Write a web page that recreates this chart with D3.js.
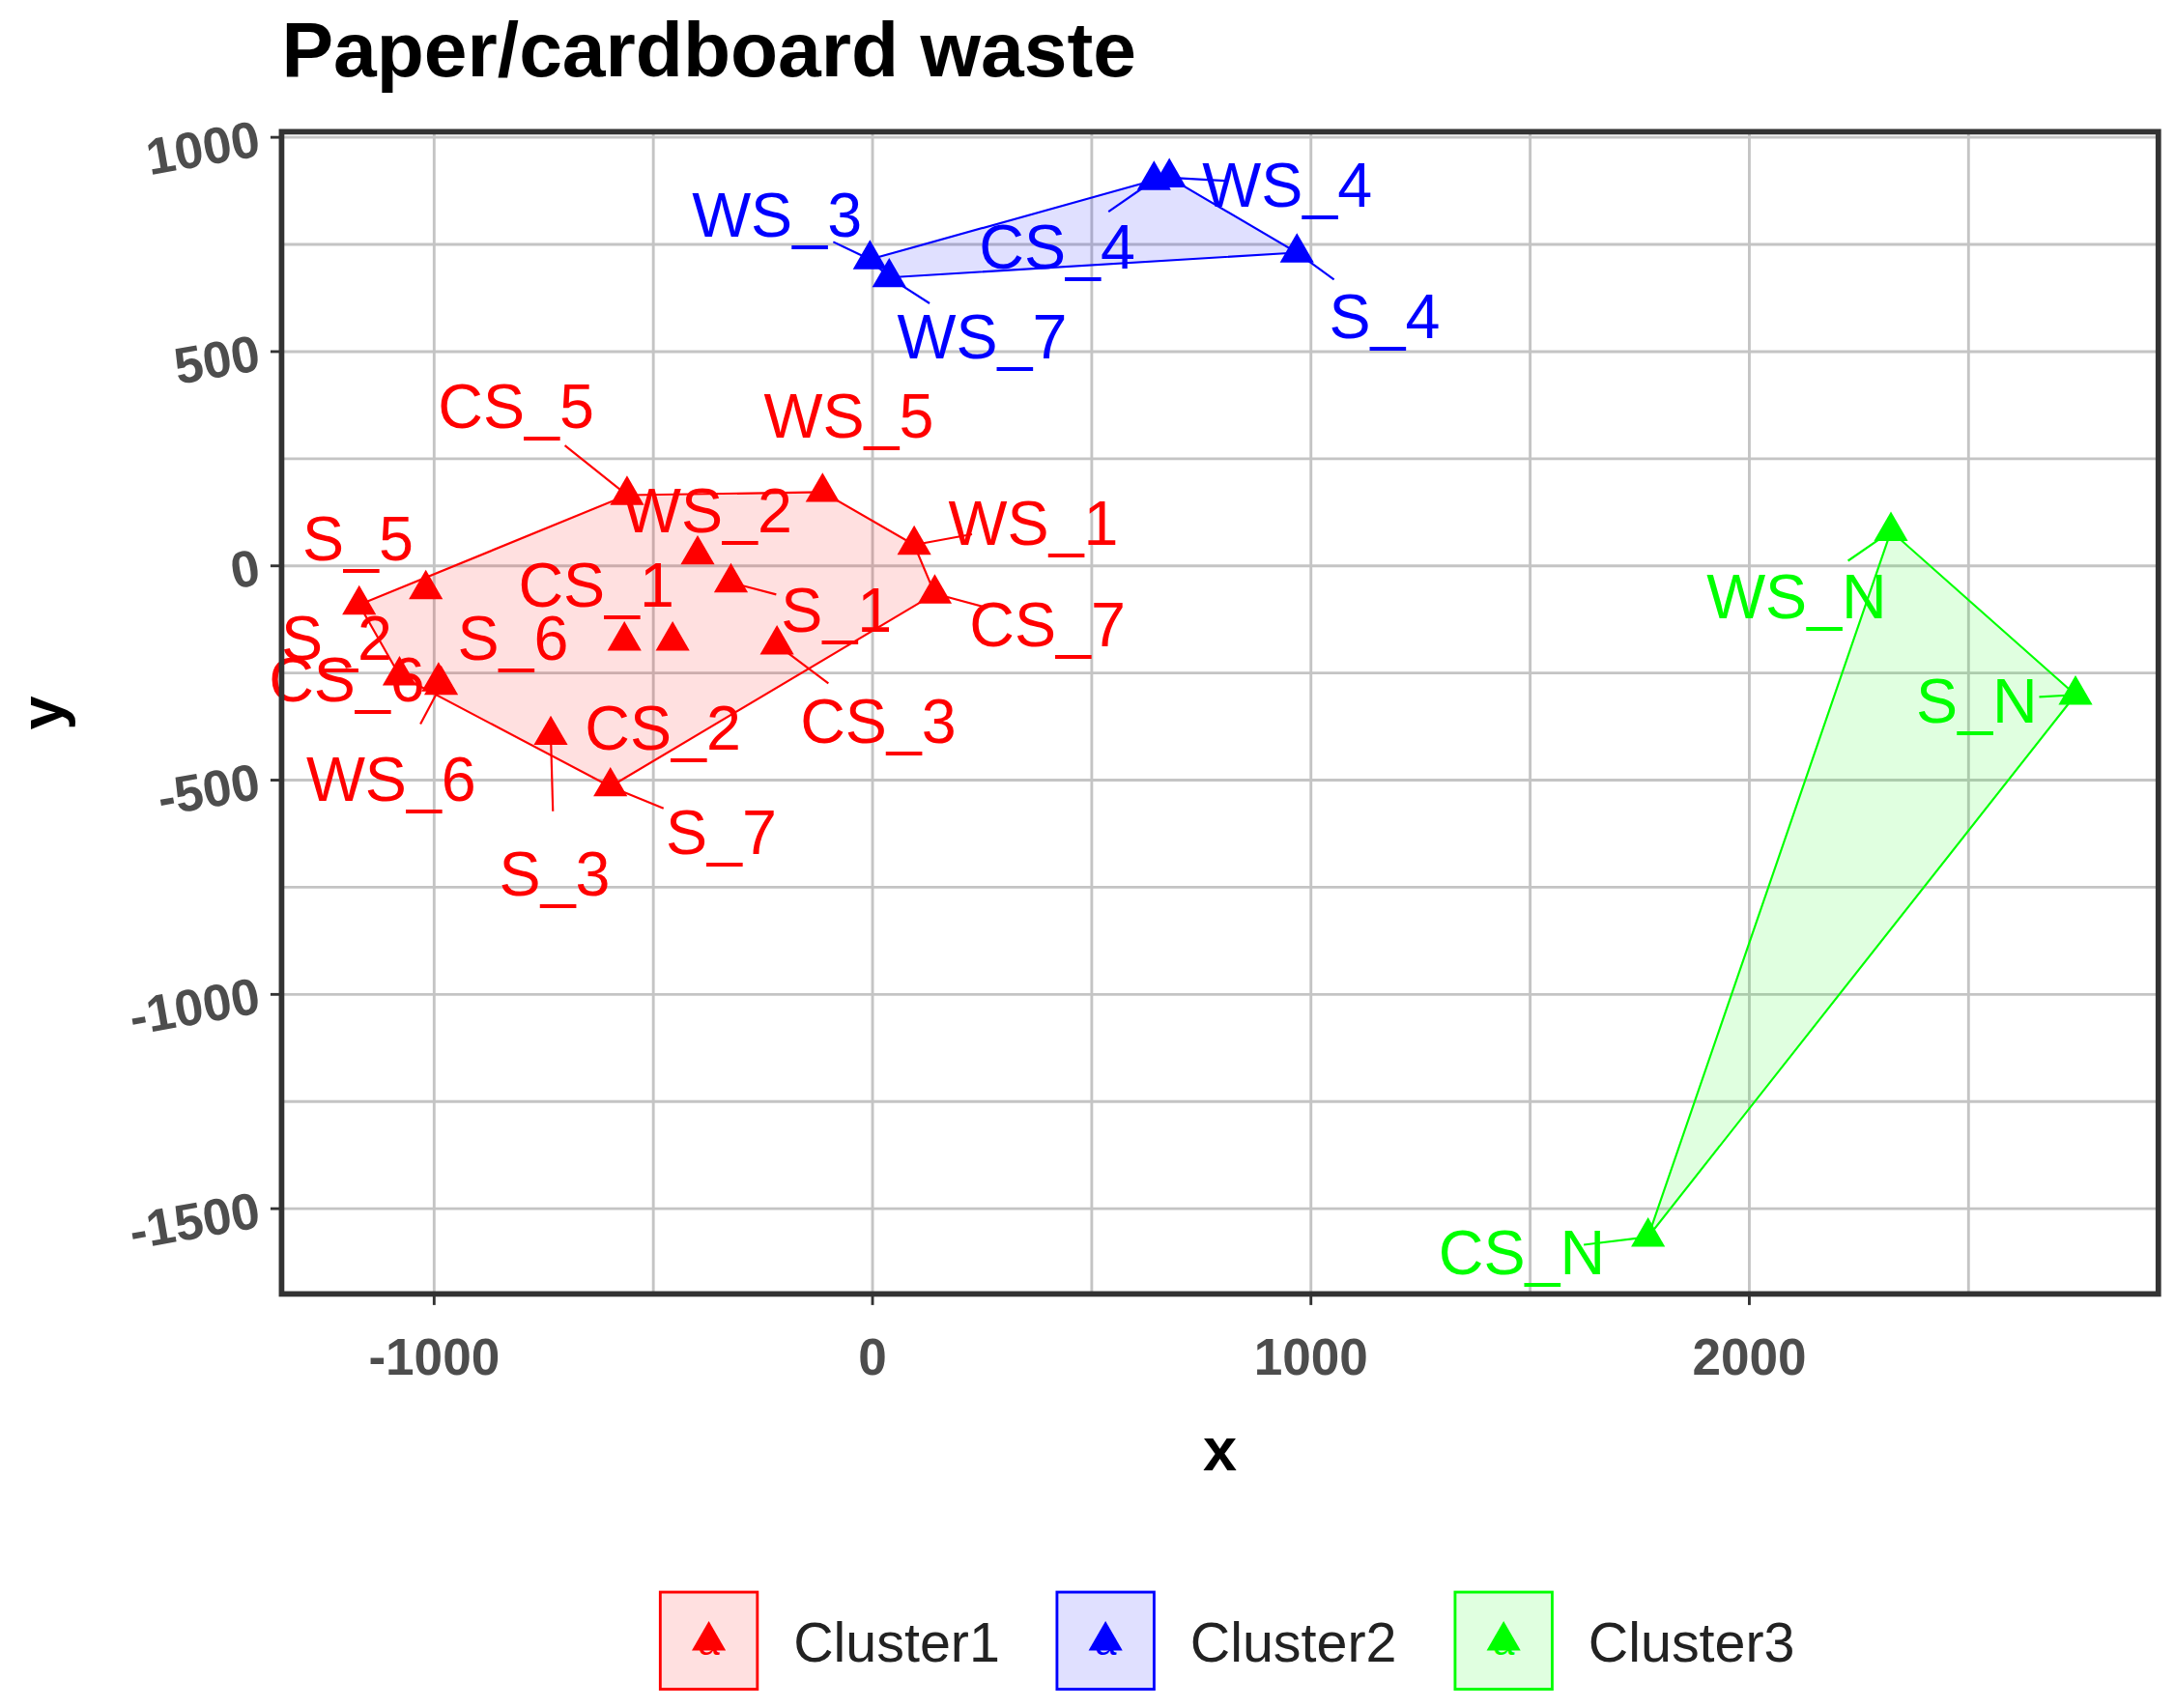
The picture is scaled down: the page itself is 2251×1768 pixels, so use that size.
<!DOCTYPE html>
<html><head><meta charset="utf-8">
<script src="https://cdn.jsdelivr.net/npm/d3@7"></script>
<style>body{margin:0;background:#fff}</style>
</head><body>
<svg id="chart" width="2251" height="1768"></svg>
<script>
// point data
var names   = ["S_5","S_2","CS_6","WS_6","S_3","S_7","CS_5","WS_5","WS_1","CS_7","WS_2","CS_1","S_6","S_1","CS_2","CS_3",
               "WS_3","WS_7","CS_4","WS_4","S_4","WS_N","S_N","CS_N"];
var cluster = [1,1,1,1,1,1,1,1,1,1,1,1,1,1,1,1, 2,2,2,2,2, 3,3,3];
var xs = [-1019,-1171,-1079,-984,-734,-598,-560,-114,95,142,-399,-566,-990,-323,-456,-218,
          -6,38,642,677,968, 2323,2744,1769];
var ys = [-55,-91,-256,-278,-395,-515,165,172,49,-65,26,-175,-270,-39,-175,-184,
          715,673,900,906,731, 81,-301,-1566];
// label positions (data units)
var lxs = [-1174,-1222,-1199,-1098,-725,-345,-813,-54,367,399,-377,-630,-820,-82,-478,13,
           -218,250,421,946,1168, 2108,2519,1481];
var lys = [65,-168,-265,-498,-718,-621,372,350,100,-136,129,-45,-168,-104,-379,-362,
           819,534,744,890,583, -71,-314,-1602];
var clusterNames = ["Cluster1","Cluster2","Cluster3"];
var clusterColors = ["#ff0000","#0000ff","#00ff00"];
var xTicks = [-1000,0,1000,2000];
var yTicks = [1000,500,0,-500,-1000,-1500];

var S = 2251/1568;
var svg = d3.select("#chart");
var g = svg.append("g").attr("transform","scale("+S+")");

var pLeft = 203, pRight = 1556, pTop = 95, pBottom = 933;
var x = d3.scaleLinear().domain([-1348, 2933]).range([pLeft, pRight]);
var y = d3.scaleLinear().domain([1013, -1699]).range([pTop, pBottom]);
var font = "Liberation Sans, Arial";

// grid
d3.range(-1000, 2600, 500).forEach(function(v) {
  g.append("line").attr("x1",x(v)).attr("x2",x(v)).attr("y1",pTop).attr("y2",pBottom)
    .attr("stroke","#c4c4c4").attr("stroke-width",2);
});
d3.range(-1500, 1001, 250).forEach(function(v) {
  g.append("line").attr("x1",pLeft).attr("x2",pRight).attr("y1",y(v)).attr("y2",y(v))
    .attr("stroke","#c4c4c4").attr("stroke-width",2);
});

// hulls
[1,2,3].forEach(function(c) {
  var pts = [];
  names.forEach(function(n,i){ if (cluster[i]==c) pts.push([x(xs[i]), y(ys[i])]); });
  var hull = d3.polygonHull(pts);
  g.append("path").attr("d","M"+hull.join("L")+"Z")
    .attr("fill",clusterColors[c-1]).attr("fill-opacity",0.12)
    .attr("stroke",clusterColors[c-1]).attr("stroke-width",1.5);
});

// leader segments for far labels
names.forEach(function(n,i) {
  var px = x(xs[i]), py = y(ys[i]), lx = x(lxs[i]), ly = y(lys[i]);
  var d = Math.hypot(lx-px, ly-py);
  if (d > 70) {
    var t = 1 - 45/d;
    g.append("line").attr("x1",px).attr("y1",py)
      .attr("x2",px+(lx-px)*t).attr("y2",py+(ly-py)*t)
      .attr("stroke",clusterColors[cluster[i]-1]).attr("stroke-width",1.5);
  }
});

// points
var tri = d3.symbol().type(d3.symbolTriangle).size(260);
names.forEach(function(n,i) {
  g.append("path").attr("d",tri).attr("transform","translate("+x(xs[i])+","+y(ys[i])+")")
    .attr("fill",clusterColors[cluster[i]-1]);
});

// labels
names.forEach(function(n,i) {
  g.append("text").attr("x",x(lxs[i])).attr("y",y(lys[i])).attr("dy","0.35em")
    .attr("text-anchor","middle").attr("font-family",font)
    .attr("font-size",45).attr("fill",clusterColors[cluster[i]-1]).text(n);
});

// panel border
g.append("rect").attr("x",pLeft).attr("y",pTop).attr("width",pRight-pLeft).attr("height",pBottom-pTop)
  .attr("fill","none").attr("stroke","#333").attr("stroke-width",4);

// ticks
xTicks.forEach(function(v) {
  g.append("line").attr("x1",x(v)).attr("x2",x(v)).attr("y1",pBottom).attr("y2",pBottom+8).attr("stroke","#333").attr("stroke-width",2);
  g.append("text").attr("x",x(v)).attr("y",pBottom+58).attr("text-anchor","middle")
    .attr("font-family",font).attr("font-weight","bold").attr("font-size",37)
    .attr("fill","#4d4d4d").text(v);
});
yTicks.forEach(function(v) {
  g.append("line").attr("x1",pLeft-8).attr("x2",pLeft).attr("y1",y(v)).attr("y2",y(v)).attr("stroke","#333").attr("stroke-width",2);
  g.append("text").attr("transform","translate("+(pLeft-14)+","+(y(v)+13)+") rotate(-10)")
    .attr("text-anchor","end").attr("font-family",font).attr("font-weight","bold")
    .attr("font-size",37).attr("fill","#4d4d4d").text(v);
});

// axis titles and title
g.append("text").attr("x",(pLeft+pRight)/2).attr("y",1060).attr("text-anchor","middle")
  .attr("font-family",font).attr("font-weight","bold").attr("font-size",44).text("x");
g.append("text").attr("transform","translate(45,"+((pTop+pBottom)/2)+") rotate(-90)").attr("text-anchor","middle")
  .attr("font-family",font).attr("font-weight","bold").attr("font-size",44).text("y");
g.append("text").attr("x",203).attr("y",55)
  .attr("font-family",font).attr("font-weight","bold").attr("font-size",56).text("Paper/cardboard waste");

// legend
var lgX = [476, 762, 1049];
clusterNames.forEach(function(n,i) {
  var lg = g.append("g").attr("transform","translate("+lgX[i]+",1148)");
  lg.append("rect").attr("width",70).attr("height",70).attr("fill",clusterColors[i]).attr("fill-opacity",0.12)
    .attr("stroke",clusterColors[i]).attr("stroke-width",2);
  lg.append("path").attr("d",tri).attr("transform","translate(35,35)").attr("fill",clusterColors[i]);
  lg.append("text").attr("x",35).attr("y",45).attr("text-anchor","middle").attr("font-family",font)
    .attr("font-size",28).attr("fill",clusterColors[i]).text("a");
  lg.append("text").attr("x",96).attr("y",50).attr("font-family",font)
    .attr("font-size",40).attr("fill","#222").text(n);
});
</script>
</body></html>
